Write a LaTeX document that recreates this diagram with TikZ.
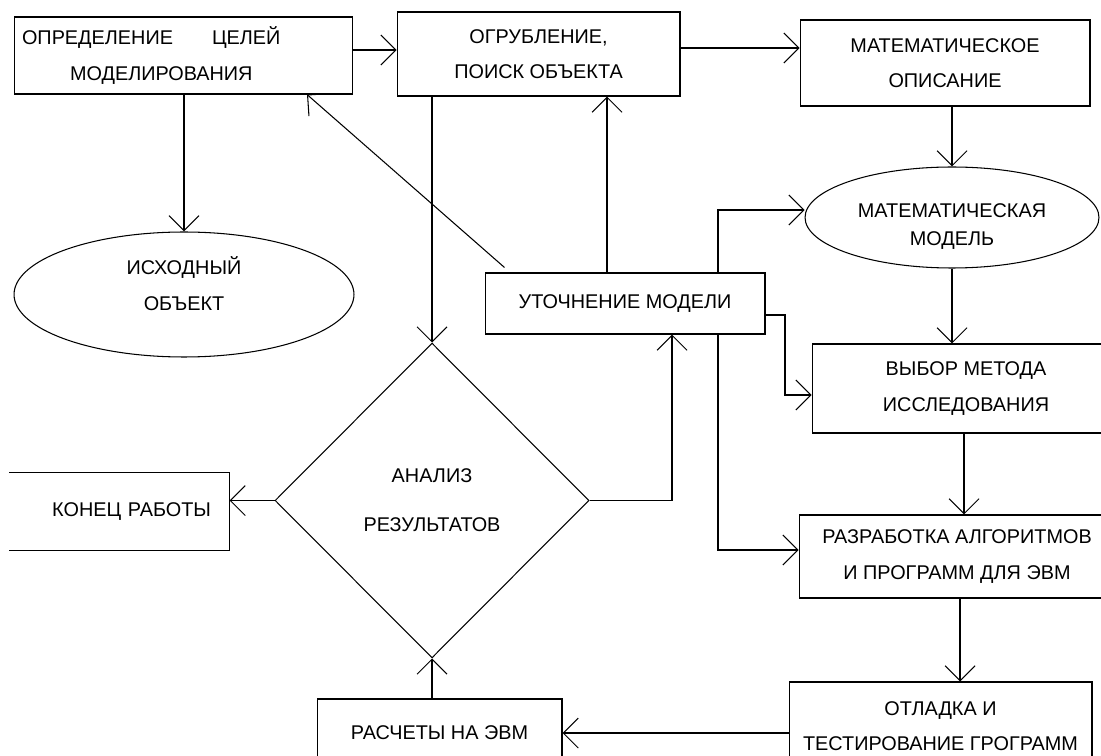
\documentclass[tikz,border=0pt]{standalone}
\usepackage{fontspec}
\setmainfont{Liberation Sans}
\usepackage{tikz}
\usetikzlibrary{arrows.meta,shapes.geometric,positioning}

\begin{document}
\begin{tikzpicture}
[x=0.02cm,y=-0.02cm,
 every node/.style={font=\fontsize{11.3}{20}\selectfont},
 box/.style={draw,rectangle,line width=0.6pt,align=center},
 oval/.style={draw,ellipse,line width=0.6pt,inner sep=0pt,align=center},
 rhomb/.style={draw,diamond,shape aspect=1,line width=0.6pt,inner sep=0pt,align=center},
 arr/.style={->,line width=0.6pt},
 >={Straight Barb[length=0.3cm,width=0.6cm]}]

\useasboundingbox (0,0) rectangle (1101,756);
\clip (0,0) rectangle (1101,756);

\node[box,align=left,text width=6.46cm,inner xsep=0.16cm,minimum height=1.54cm] (goal) at (183.5,55.5)
  {ОПРЕДЕЛЕНИЕ\hspace{0.78cm}ЦЕЛЕЙ\\\hspace{0.96cm}МОДЕЛИРОВАНИЯ};
\node[box,minimum width=5.66cm,minimum height=1.68cm] (rough) at (538.5,54) {ОГРУБЛЕНИЕ,\\ПОИСК ОБЪЕКТА};
\node[box,minimum width=5.8cm,minimum height=1.72cm] (mdesc) at (945,63) {МАТЕМАТИЧЕСКОЕ\\ОПИСАНИЕ};

\node[oval,minimum width=6.8cm,minimum height=2.5cm] (orig) at (184,294.5) {ИСХОДНЫЙ\\ОБЪЕКТ\rule[-12.5pt]{0pt}{0pt}};
\node[oval,minimum width=5.88cm,minimum height=2.02cm] (mmodel) at (952,217.5) {\rule{0pt}{18.4pt}МАТЕМАТИЧЕСКАЯ\\[-4pt]МОДЕЛЬ};

\node[box,minimum width=5.6cm,minimum height=1.22cm] (refine) at (625,303.5) {УТОЧНЕНИЕ МОДЕЛИ};
\node[box,minimum width=6.16cm,minimum height=1.78cm] (method) at (966,388.5) {ВЫБОР МЕТОДА\\ИССЛЕДОВАНИЯ};

\node[rhomb,minimum width=6.28cm,minimum height=6.3cm] (analysis) at (432,500.5) {АНАЛИЗ\\[8pt]РЕЗУЛЬТАТОВ};
\node[box,draw=none,align=right,text width=3.66cm,inner xsep=0.36cm,minimum height=1.54cm] (end) at (119.5,511.5) {КОНЕЦ РАБОТЫ};
\draw[line width=0.6pt] (end.north west) -- (end.north east) -- (end.south east) -- (end.south west);

\node[box,minimum width=6.32cm,minimum height=1.66cm] (algo) at (957,556.5) {РАЗРАБОТКА АЛГОРИТМОВ\\И ПРОГРАММ ДЛЯ ЭВМ};
\node[box,minimum width=6.06cm,minimum height=1.76cm] (debug) at (940.5,726) {ОТЛАДКА И\\ТЕСТИРОВАНИЕ ГРОГРАММ};
\node[box,minimum width=4.9cm,minimum height=1.36cm] (calc) at (439.5,733) {РАСЧЕТЫ НА ЭВМ};

\draw[arr] (goal.east |- 0,50) -- (rough.west |- 0,50);
\draw[arr] (rough.east |- 0,48) -- (mdesc.west |- 0,48);
\draw[arr] (mmodel.north |- mdesc.south) -- (mmodel.north);
\draw[arr] (orig.north |- goal.south) -- (orig.north);
\draw[arr] (mmodel.south) -- (mmodel.south |- method.north);
\draw[arr] (method.south -| 964,0) -- (algo.north -| 964,0);
\draw[arr] (algo.south -| 960,0) -- (debug.north -| 960,0);
\draw[arr] (debug.west |- calc.east) -- (calc.east);
\draw[arr] (calc.north -| analysis.south) -- (analysis.south);
\draw[arr] (analysis.west) -- (end.east |- analysis.west);
\draw[arr] (analysis.north |- rough.south) -- (analysis.north);
\draw[arr] (refine.north -| 607,0) -- (rough.south -| 607,0);
\draw[arr] ([shift={(20,-5)}]refine.north west) -- (goal.south -| 307,0);
\draw[arr] (analysis.east) -| ([shift={(47,0)}]refine.south);
\draw[arr] (refine.east |- 0,315) -- (785,315) -- (785,395) -- (method.west |- 0,395);
\draw[arr] ([shift={(93,0)}]refine.north) |- (mmodel.west |- 0,210);
\draw[arr] ([shift={(93,0)}]refine.south) |- (algo.west |- 0,550);
\end{tikzpicture}
\end{document}
